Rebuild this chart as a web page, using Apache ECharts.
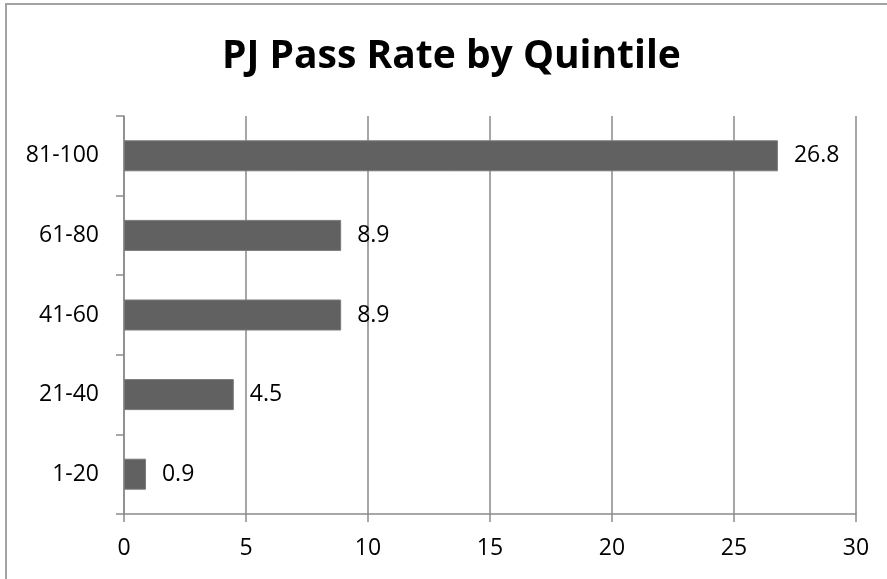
<!DOCTYPE html>
<html>
<head>
<meta charset="utf-8">
<script src="https://cdn.jsdelivr.net/npm/echarts@6/dist/echarts.min.js"></script>
<style>
  html, body { margin: 0; padding: 0; background: #fff; }
  #chart { width: 887px; height: 579px; }
</style>
</head>
<body>
<div id="chart"></div>
<script>
// Quintile groups, bottom to top
const quintiles = ['1-20', '21-40', '41-60', '61-80', '81-100'];
// Pass rate for each quintile
const passRates = [0.9, 4.5, 8.9, 8.9, 26.8];
// Value axis range
const axisMin = 0;
const axisMax = 30;
const axisStep = 5;

const FONT = '"Open Sans", "Noto Sans", sans-serif';
const LINE = '#8a8a8a';

const chart = echarts.init(document.getElementById('chart'), null, { renderer: 'canvas' });

chart.setOption({
  backgroundColor: '#ffffff',
  animation: false,
  graphic: [{
    type: 'rect',
    shape: { x: 6, y: 4, width: 900, height: 600 },
    style: { fill: 'none', stroke: '#a3a3a3', lineWidth: 2 },
    silent: true
  }],
  title: {
    text: 'PJ Pass Rate by Quintile',
    left: 222,
    top: 37,
    padding: 0,
    textStyle: { fontFamily: FONT, fontWeight: 'bold', fontSize: 39, color: '#000' }
  },
  grid: { left: 124, right: 31, top: 116, bottom: 65, containLabel: false },
  xAxis: {
    type: 'value',
    min: axisMin,
    max: axisMax,
    interval: axisStep,
    axisLine: { show: true, lineStyle: { color: LINE, width: 1.5 } },
    axisTick: { show: true, length: 8, lineStyle: { color: LINE, width: 1.5 } },
    splitLine: { show: true, lineStyle: { color: LINE, width: 1.5 } },
    axisLabel: { fontFamily: FONT, fontSize: 23, color: '#000', margin: 23 }
  },
  yAxis: {
    type: 'category',
    data: quintiles,
    axisLine: { show: true, lineStyle: { color: LINE, width: 1.5 } },
    axisTick: { show: true, length: 8, lineStyle: { color: LINE, width: 1.5 } },
    splitLine: { show: false },
    axisLabel: { fontFamily: FONT, fontSize: 23, color: '#000', margin: 25 }
  },
  series: [{
    type: 'bar',
    data: passRates,
    barWidth: 31,
    itemStyle: { color: '#616161', borderColor: '#7a7a7a', borderWidth: 1 },
    label: {
      show: true,
      position: 'right',
      distance: 16,
      fontFamily: FONT,
      fontSize: 23,
      color: '#000'
    }
  }]
});
</script>
</body>
</html>
